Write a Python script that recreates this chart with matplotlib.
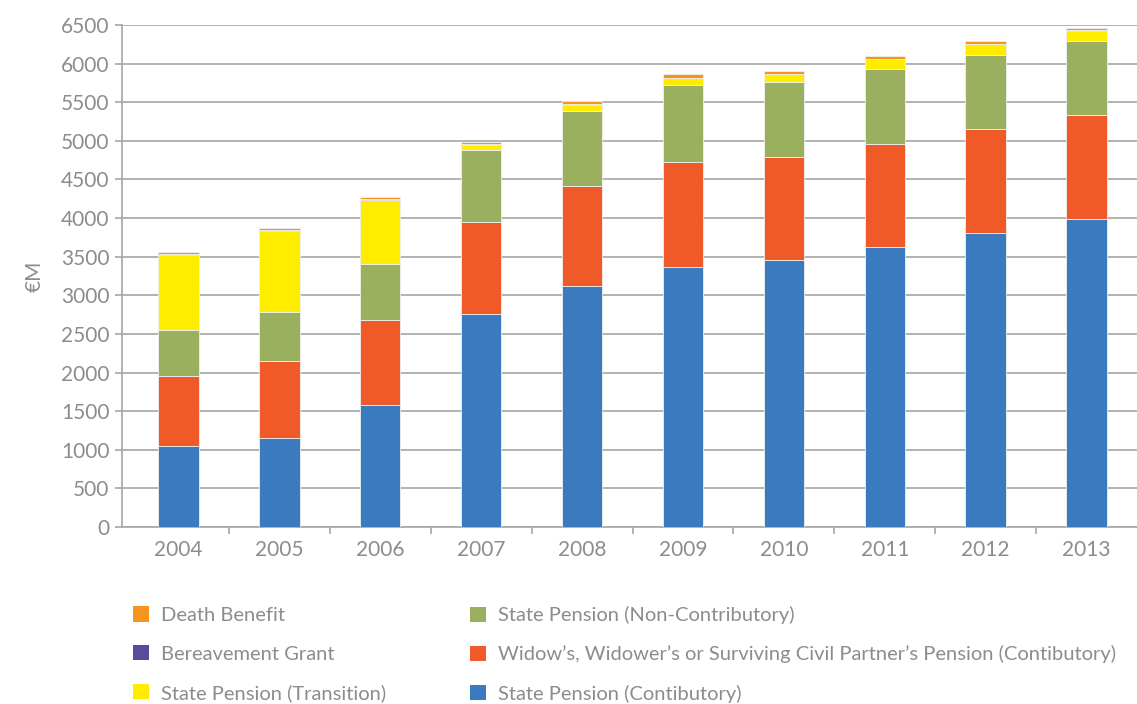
import numpy as np
import matplotlib.pyplot as plt
from matplotlib.patches import Patch

years = ["2004", "2005", "2006", "2007", "2008", "2009", "2010", "2011", "2012", "2013"]

# values in EUR million, bottom to top of each stack
sp_contributory = [1050, 1150, 1580, 2760, 3120, 3370, 3455, 3625, 3805, 3985]
widows_pension = [905, 1000, 1100, 1195, 1300, 1355, 1330, 1340, 1345, 1350]
sp_non_contributory = [595, 635, 725, 930, 965, 995, 975, 965, 965, 955]
sp_transition = [970, 1050, 830, 65, 80, 90, 100, 125, 135, 130]
bereavement_grant = [10, 10, 10, 10, 10, 10, 10, 10, 10, 10]
death_benefit = [30, 25, 30, 25, 40, 40, 35, 35, 35, 30]

labels = ["State Pension (Contibutory)",
          "Widow\u2019s, Widower\u2019s or Surviving Civil Partner\u2019s Pension (Contibutory)",
          "State Pension (Non-Contributory)",
          "State Pension (Transition)",
          "Bereavement Grant",
          "Death Benefit"]
colors = ["#3a7bbf", "#f05a28", "#9bb05e", "#ffed00", "#5b4a9e", "#f7941d"]
series = [sp_contributory, widows_pension, sp_non_contributory,
          sp_transition, bereavement_grant, death_benefit]

plt.rcParams['font.family'] = ['Lato', 'DejaVu Sans']
grey = "#8c8c8c"

fig = plt.figure(figsize=(11.37, 7.04), dpi=100)
ax = fig.add_axes([0.1073, 0.2514, 0.8927, 0.7131])

x = np.arange(len(years))
bottom = np.zeros(len(years))
for vals, col in zip(series, colors):
    ax.bar(x, vals, 0.4, bottom=bottom, color=col, edgecolor="#f0f0f0", linewidth=0.6, zorder=3)
    bottom += np.array(vals)

ax.set_ylim(0, 6500)
ax.set_xlim(-0.56, 9.5)
ax.set_yticks(np.arange(0, 6501, 500))
ax.yaxis.grid(True, color="#a6a6a6", linewidth=1.2, zorder=0)
ax.set_xticks(x)
ax.set_xticklabels(years)
ax.set_xticks(np.arange(0.5, 9, 1), minor=True)
ax.tick_params(axis="x", which="major", length=0, pad=9, labelsize=15, labelcolor=grey)
ax.tick_params(axis="x", which="minor", length=5, color="#a6a6a6", width=1.2)
ax.tick_params(axis="y", length=5, color="#a6a6a6", width=1.2, labelsize=15, labelcolor=grey, pad=4)

for s in ["top", "right"]:
    ax.spines[s].set_visible(False)
for s in ["left", "bottom"]:
    ax.spines[s].set_color("#a6a6a6")
    ax.spines[s].set_linewidth(1.2)

ax.set_ylabel("\u20acM", fontsize=15, color=grey, labelpad=12)

# legend: two separate columns
leg_kw = dict(loc="upper left", frameon=False, fontsize=14.5, labelcolor=grey,
              handlelength=0.8, handleheight=0.8, handletextpad=0.6,
              labelspacing=1.05, borderpad=0, borderaxespad=0)
left_col = [Patch(facecolor=colors[i], label=labels[i]) for i in [5, 4, 3]]
right_col = [Patch(facecolor=colors[i], label=labels[i]) for i in [2, 1, 0]]
fig.legend(handles=left_col, bbox_to_anchor=(0.117, 0.139), **leg_kw)
fig.legend(handles=right_col, bbox_to_anchor=(0.4134, 0.139), **leg_kw)

fig.savefig("out.png", dpi=100)
